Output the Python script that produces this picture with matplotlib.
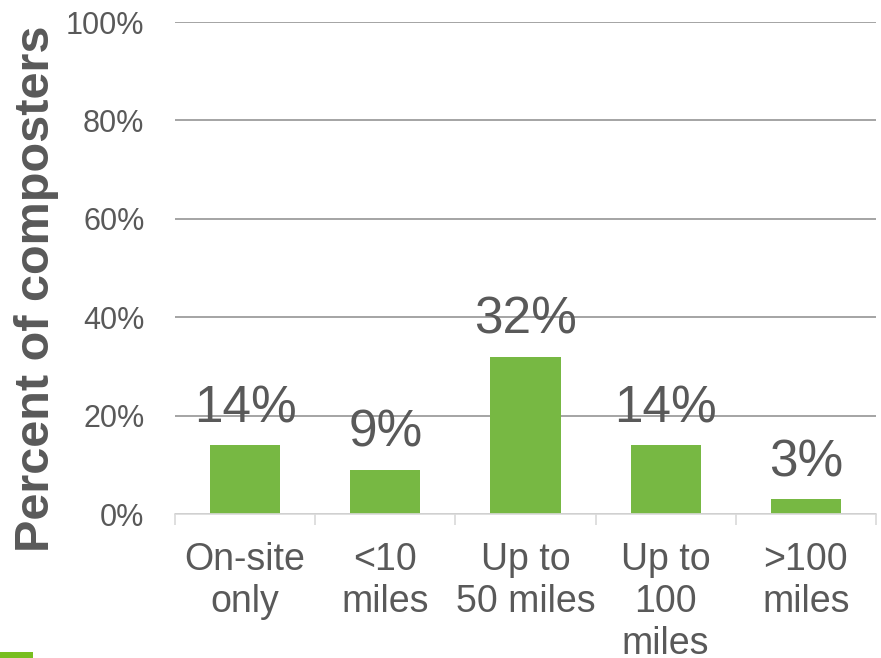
import matplotlib
matplotlib.use("Agg")
import matplotlib.pyplot as plt
from matplotlib.patches import Rectangle

plt.rcParams['font.family'] = ['Liberation Sans', 'DejaVu Sans']

categories = ["On-site\nonly", "<10\nmiles", "Up to\n50 miles", "Up to\n100\nmiles", ">100\nmiles"]
values = [14, 9, 32, 14, 3]
y_ticks = [0, 20, 40, 60, 80, 100]
y_label = "Percent of composters"

text_color = "#595959"
bar_color = "#77B843"

W, H = 881, 658
fig = plt.figure(figsize=(W / 100, H / 100), dpi=100)
ax = fig.add_axes([175 / W, 1 - 514 / H, (876 - 175) / W, (514 - 22) / H])

x = list(range(len(categories)))
bars = ax.bar(x, values, width=0.5, color=bar_color, zorder=3)

ax.set_xlim(-0.5, len(categories) - 0.5)
ax.set_ylim(0, 100)

# horizontal gridlines
ax.set_yticks(y_ticks)
ax.set_yticklabels([f"{t}%" for t in y_ticks])
ax.yaxis.grid(True, color="#8C8C8C", linewidth=1.1, zorder=0)
ax.set_axisbelow(True)
ax.tick_params(axis='y', length=0, pad=22, labelsize=22, labelcolor=text_color)

# category labels with separator ticks between categories
ax.set_xticks(x)
ax.set_xticklabels(categories, linespacing=1.22)
ax.set_xticks([i - 0.5 for i in range(len(categories) + 1)], minor=True)
ax.tick_params(axis='x', which='major', length=0, pad=20, labelsize=27, labelcolor=text_color)
ax.tick_params(axis='x', which='minor', length=8, width=1.2, color="#D9D9D9", direction='out')

for s in ["top", "right", "left"]:
    ax.spines[s].set_visible(False)
ax.spines["bottom"].set_color("#D9D9D9")
ax.spines["bottom"].set_linewidth(1.2)
ax.spines["bottom"].set_zorder(4)

# value labels above bars
for xi, v in zip(x, values):
    ax.annotate(f"{v}%", (xi, v), xytext=(0, 16.5), textcoords="offset points",
                ha="center", va="baseline", fontsize=37, color=text_color, zorder=5)

# vertical axis title
fig.text(49 / W, 1 - 289 / H, y_label, rotation=90, rotation_mode='anchor',
         ha='center', va='baseline', fontsize=35, fontweight='bold', color=text_color)

# small accent strip in the bottom-left corner
fig.patches.append(Rectangle((0, 0), 33 / W, 6 / H, transform=fig.transFigure,
                             facecolor="#78BE20", edgecolor='none'))

fig.savefig("out.png", dpi=100)
